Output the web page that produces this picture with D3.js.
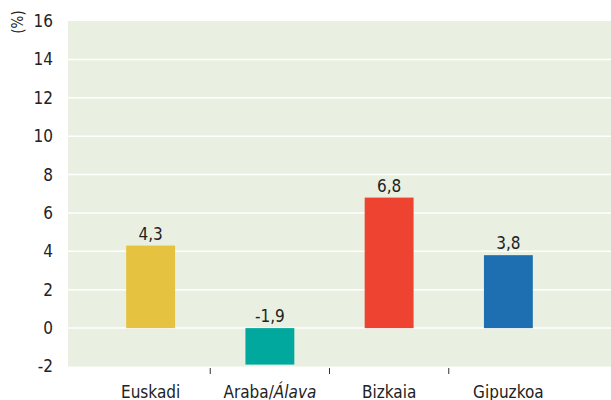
<!DOCTYPE html>
<html>
<head>
<meta charset="utf-8">
<script src="https://cdn.jsdelivr.net/npm/d3@7"></script>
<style>
  body { margin: 0; background: #fff; }
  text { font-family: "Liberation Sans Narrow", "DejaVu Sans Condensed", sans-serif; fill: #222; }
</style>
</head>
<body>
<svg id="chart"></svg>
<script>
const width = 611;
const height = 400;

const categories = ["Euskadi", "Araba/Álava", "Bizkaia", "Gipuzkoa"];
const values = [4.3, -1.9, 6.8, 3.8];
const colors = ["#e5c23f", "#00a89d", "#ee4330", "#1d6fb1"];
const yTicks = [-2, 0, 2, 4, 6, 8, 10, 12, 14, 16];

const svg = d3.select("#chart").attr("width", width).attr("height", height);

const plotLeft = 68, plotRight = 611;

const y = d3.scaleLinear().domain([-2, 16]).range([366.5, 21]);

const x = d3.scaleBand()
  .domain(categories)
  .range([91, 568])
  .paddingInner(0.59)
  .paddingOuter(0.295);

// plot background
svg.append("rect")
  .attr("x", plotLeft)
  .attr("y", y(16))
  .attr("width", plotRight - plotLeft)
  .attr("height", y(-2) - y(16))
  .attr("fill", "#e9f0e1");

// gridlines
svg.selectAll(".grid")
  .data(yTicks.filter((d) => d > -2 && d < 16))
  .enter()
  .append("line")
  .attr("x1", plotLeft)
  .attr("x2", plotRight)
  .attr("y1", (d) => y(d))
  .attr("y2", (d) => y(d))
  .attr("stroke", "#fff")
  .attr("stroke-width", 1.5);

// y tick labels
svg.selectAll(".ylab")
  .data(yTicks)
  .enter()
  .append("text")
  .attr("x", 53)
  .attr("y", (d) => y(d))
  .attr("dy", "0.35em")
  .attr("text-anchor", "end")
  .attr("font-size", "17px")
  .text((d) => d);

svg.append("text")
  .attr("transform", "translate(23,22) rotate(-90)")
  .attr("text-anchor", "middle")
  .attr("font-size", "15px")
  .text("(%)");

// bars
svg.selectAll(".bar")
  .data(values)
  .enter()
  .append("rect")
  .attr("x", (d, i) => x(categories[i]))
  .attr("y", (d) => y(Math.max(0, d)))
  .attr("width", x.bandwidth())
  .attr("height", (d) => Math.abs(y(d) - y(0)))
  .attr("fill", (d, i) => colors[i]);

// value labels
svg.selectAll(".val")
  .data(values)
  .enter()
  .append("text")
  .attr("x", (d, i) => x(categories[i]) + x.bandwidth() / 2)
  .attr("y", (d) => y(Math.max(0, d)) - 6)
  .attr("text-anchor", "middle")
  .attr("font-size", "17px")
  .text((d) => String(d).replace(".", ","));

// x ticks between bands
const step = x.step();
svg.selectAll(".xtick")
  .data(categories.slice(0, -1))
  .enter()
  .append("line")
  .attr("x1", (d) => x(d) + x.bandwidth() / 2 + step / 2)
  .attr("x2", (d) => x(d) + x.bandwidth() / 2 + step / 2)
  .attr("y1", 368)
  .attr("y2", 374)
  .attr("stroke", "#333")
  .attr("stroke-width", 1);

// x labels
const xl = svg.selectAll(".xlab")
  .data(categories)
  .enter()
  .append("text")
  .attr("x", (d) => x(d) + x.bandwidth() / 2)
  .attr("y", 398)
  .attr("text-anchor", "middle")
  .attr("font-size", "17px");

xl.each(function (d) {
  const t = d3.select(this);
  const parts = d.split("/");
  t.append("tspan").text(parts[0]);
  if (parts.length > 1) {
    t.append("tspan").text("/");
    t.append("tspan").attr("font-style", "italic").text(parts[1]);
  }
});
</script>
</body>
</html>
